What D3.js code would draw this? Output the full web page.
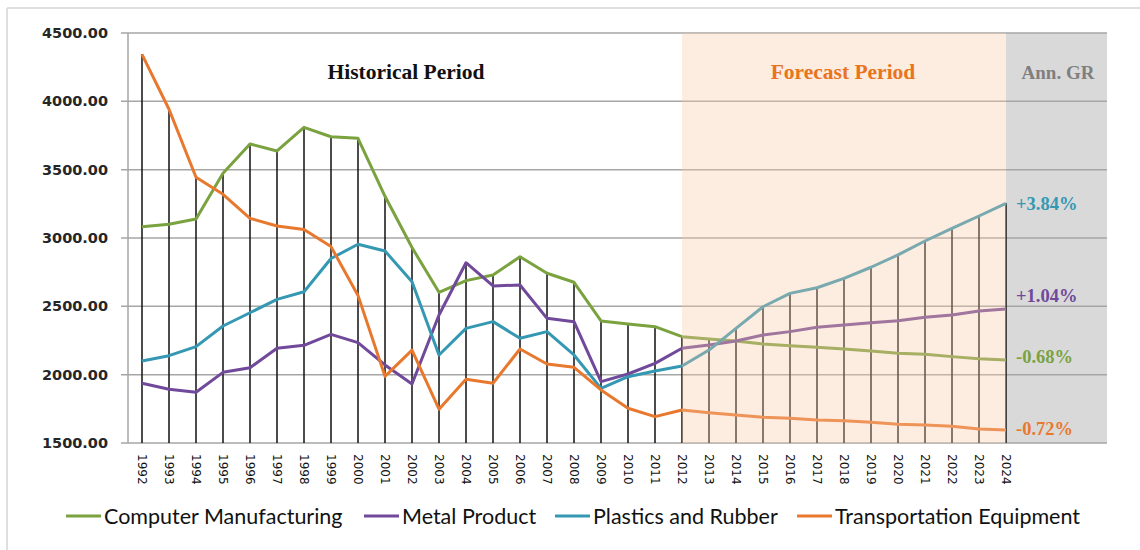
<!DOCTYPE html>
<html>
  <head>
    <title>Industry Output Forecast</title>
    <style>
      body,
      html {
        margin: 0;
        padding: 0;
        background: #fff;
      }
    </style>
  </head>
  <body>
    <svg id="svg" width="1140" height="550"></svg>

    <script src="https://cdn.jsdelivr.net/npm/d3@7"></script>
    <script>
      const years = d3.range(1992, 2025);
      const forecastStart = 2012;

      const computer = [
        3083, 3100, 3139, 3473, 3688, 3637, 3810, 3741, 3729, 3305, 2930,
        2603, 2688, 2729, 2863, 2742, 2676, 2393, 2371, 2351, 2278, 2261,
        2246, 2224, 2212, 2200, 2188, 2173, 2156, 2149, 2132, 2117, 2107
      ];
      const metal = [
        1937, 1893, 1871, 2017, 2051, 2193, 2215, 2295, 2234, 2071, 1932,
        2437, 2819, 2649, 2656, 2412, 2388, 1949, 2005, 2083, 2193, 2217,
        2246, 2290, 2315, 2347, 2363, 2380, 2395, 2420, 2437, 2466, 2480
      ];
      const plastics = [
        2100, 2139, 2205, 2356, 2453, 2551, 2607, 2850, 2954, 2905, 2680,
        2144, 2339, 2388, 2266, 2315, 2144, 1900, 1985, 2027, 2063, 2180,
        2339, 2497, 2595, 2636, 2705, 2786, 2876, 2978, 3071, 3161, 3254
      ];
      const transport = [
        4344, 3942, 3444, 3320, 3144, 3088, 3063, 2937, 2580, 1988, 2180,
        1747, 1966, 1937, 2188, 2078, 2054, 1888, 1754, 1693, 1741, 1722,
        1705, 1688, 1681, 1668, 1663, 1651, 1637, 1632, 1622, 1602, 1595
      ];

      const seriesNames = [
        'Computer Manufacturing',
        'Metal Product',
        'Plastics and Rubber',
        'Transportation Equipment'
      ];
      const growthLabels = ['-0.68%', '+1.04%', '+3.84%', '-0.72%'];
      const yTicks = [1500, 2000, 2500, 3000, 3500, 4000, 4500];

      const colors = ['#7aa23f', '#70499a', '#3498b3', '#e8782e'];
      const allSeries = [computer, metal, plastics, transport];

      const svg = d3.select('#svg');
      const plotLeft = 128;
      const plotTop = 33;
      const plotBottom = 443;
      const plotRight = 1107;

      const xScale = d3.scalePoint().domain(years).range([142, 1006]);
      const yScale = d3.scaleLinear().domain([1500, 4500]).range([plotBottom, plotTop]);
      const x2024 = xScale(2024);
      const xFc = xScale(forecastStart);

      // outer frame
      svg.append('line').attr('x1', 7).attr('x2', 1140).attr('y1', 8).attr('y2', 8)
        .attr('stroke', '#d4d4d4').attr('stroke-width', 1.5);
      svg.append('line').attr('x1', 7).attr('x2', 7).attr('y1', 8).attr('y2', 550)
        .attr('stroke', '#d4d4d4').attr('stroke-width', 1.5);

      // growth-rate column
      svg.append('rect')
        .attr('x', x2024).attr('y', plotTop)
        .attr('width', plotRight - x2024).attr('height', plotBottom - plotTop)
        .attr('fill', '#d9d9d9');

      // gridlines + ticks
      svg.append('g')
        .selectAll('line')
        .data(yTicks)
        .join('line')
        .attr('x1', plotLeft - 7)
        .attr('x2', plotRight)
        .attr('y1', (d) => yScale(d))
        .attr('y2', (d) => yScale(d))
        .attr('stroke', '#a6a6a6')
        .attr('stroke-width', 1.5);

      svg.append('line')
        .attr('x1', plotLeft).attr('x2', plotLeft)
        .attr('y1', plotTop).attr('y2', plotBottom)
        .attr('stroke', '#a6a6a6').attr('stroke-width', 1.5);

      svg.append('g')
        .selectAll('text')
        .data(yTicks)
        .join('text')
        .attr('x', 108)
        .attr('y', (d) => yScale(d) + 5)
        .attr('text-anchor', 'end')
        .attr('font-family', 'DejaVu Sans')
        .attr('font-weight', 'bold')
        .attr('font-size', 14.5)
        .attr('fill', '#262626')
        .text((d) => d3.format('.2f')(d));

      // drop lines from highest series to axis
      svg.append('g')
        .selectAll('line')
        .data(years)
        .join('line')
        .attr('x1', (d) => xScale(d))
        .attr('x2', (d) => xScale(d))
        .attr('y1', (d, i) => yScale(d3.max(allSeries, (s) => s[i])))
        .attr('y2', plotBottom)
        .attr('stroke', '#111')
        .attr('stroke-width', 1.5);

      const linegen = d3
        .line()
        .x((d, i) => xScale(years[i]))
        .y((d) => yScale(d));

      allSeries.forEach((s, k) => {
        svg.append('path')
          .attr('d', linegen(s))
          .attr('stroke', colors[k])
          .attr('stroke-width', 3)
          .attr('stroke-linejoin', 'round')
          .attr('fill', 'none');
      });

      // forecast shading laid over the lines
      svg.append('rect')
        .attr('x', xFc).attr('y', plotTop)
        .attr('width', x2024 - xFc).attr('height', plotBottom - plotTop)
        .attr('fill', 'rgb(249,201,166)')
        .attr('fill-opacity', 0.35);

      // x axis labels
      svg.append('g')
        .selectAll('text')
        .data(years)
        .join('text')
        .attr('transform', (d) => `translate(${xScale(d) - 4.5},454) rotate(90)`)
        .attr('font-family', 'DejaVu Sans')
        .attr('font-size', 12)
        .attr('fill', '#111')
        .text((d) => d);

      // period titles
      const titleFont = 'Liberation Serif';
      svg.append('text')
        .attr('x', 406).attr('y', 79)
        .attr('text-anchor', 'middle')
        .attr('font-family', titleFont).attr('font-weight', 'bold')
        .attr('font-size', 21.5).attr('fill', '#111')
        .text('Historical Period');
      svg.append('text')
        .attr('x', 843).attr('y', 79)
        .attr('text-anchor', 'middle')
        .attr('font-family', titleFont).attr('font-weight', 'bold')
        .attr('font-size', 21.5).attr('fill', '#e8741c')
        .text('Forecast Period');
      svg.append('text')
        .attr('x', 1058).attr('y', 79)
        .attr('text-anchor', 'middle')
        .attr('font-family', titleFont).attr('font-weight', 'bold')
        .attr('font-size', 19).attr('fill', '#7f7f7f')
        .text('Ann. GR');

      // growth labels at the last point
      const growthDy = [3, -7, 7, 5];
      svg.append('g')
        .selectAll('text')
        .data(growthLabels)
        .join('text')
        .attr('x', 1016)
        .attr('y', (d, k) => yScale(allSeries[k][allSeries[k].length - 1]) + growthDy[k])
        .attr('font-family', titleFont)
        .attr('font-weight', 'bold')
        .attr('font-size', 18.5)
        .attr('fill', (d, k) => colors[k])
        .text((d) => d);

      // legend
      const legendX = [66, 364, 555, 797];
      const legend = svg.append('g')
        .selectAll('g')
        .data(seriesNames)
        .join('g')
        .attr('transform', (d, k) => `translate(${legendX[k]},516)`);
      legend.append('line')
        .attr('x1', 0).attr('x2', 35)
        .attr('stroke', (d, k) => colors[k])
        .attr('stroke-width', 3);
      legend.append('text')
        .attr('x', 38).attr('y', 7.5)
        .attr('font-family', 'Lato')
        .attr('font-size', 21.5)
        .attr('fill', '#111')
        .text((d) => d);
    </script>
  </body>
</html>
